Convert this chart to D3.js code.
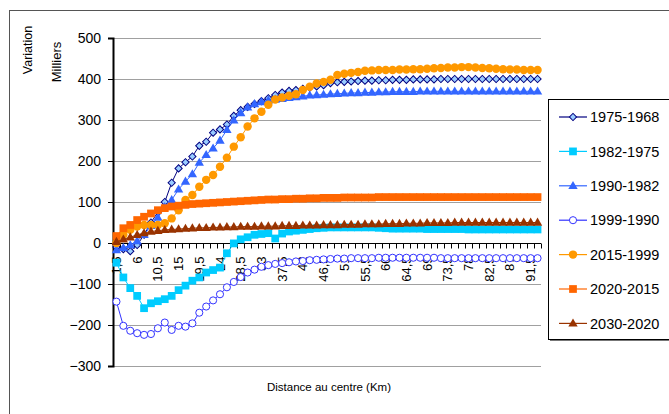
<!DOCTYPE html>
<html>
<head>
<meta charset="utf-8">
<script src="https://cdn.jsdelivr.net/npm/d3@7/dist/d3.min.js"></script>
<style>
  html, body { margin: 0; padding: 0; background: #fff; }
  svg { display: block; font-family: "Liberation Sans", Arial, sans-serif; }
</style>
</head>
<body>
<svg id="chart" width="669" height="414"></svg>
<script>
// ---------- DATA ----------
const categories = [1.5,3,4.5,6,7.5,9,10.5,12,13.5,15,16.5,18,19.5,21,22.5,24,25.5,27,28.5,30,
  31.5,33,34.5,36,37.5,39,40.5,42,43.5,45,46.5,48,49.5,51,52.5,54,55.5,57,58.5,60,
  61.5,63,64.5,66,67.5,69,70.5,72,73.5,75,76.5,78,79.5,81,82.5,84,85.5,87,88.5,90,91.5,93];

const yTicks = [-300,-200,-100,0,100,200,300,400,500];

const s1975_1968 = [-10,-15,-20,-5,20,50,75,100,147,182,
  197,211,237,247,269,277,289,310,324,332,
  339,346,353,361,367,371,373,376,379,382,
  385,390,392,393,394,395,396,396,397,397,
  398,398,398,399,399,399,399,400,400,400,
  400,400,400,400,400,400,400,400,400,400,400,400];

const s1982_1975 = [-48,-84,-110,-129,-159,-147,-142,-137,-129,-115,
  -104,-92,-84,-72,-66,-60,-25,-1,9,14,
  20,22,24,11,23,28,30,32,34,36,
  37,38,38,38,38,38,38,38,37,36,
  35,35,35,35,35,34,34,34,34,34,
  34,33,33,33,33,33,33,33,33,33,33,33];

const s1990_1982 = [-17,-12,-5,5,20,42,62,88,105,131,
  150,168,196,215,231,250,276,299,317,331,
  339,344,348,350,352,354,356,358,360,361,
  362,363,364,365,366,366,367,367,368,368,
  369,369,369,369,370,370,370,370,370,370,
  370,370,370,370,370,370,370,370,370,370,370,370];

const s1999_1990 = [-143,-202,-214,-220,-224,-222,-208,-194,-212,-202,
  -204,-196,-170,-155,-140,-125,-108,-95,-83,-72,
  -65,-58,-54,-51,-49,-47,-45,-44,-42,-41,
  -40,-39,-38,-38,-37,-37,-37,-37,-36,-36,
  -36,-36,-36,-36,-36,-36,-36,-37,-37,-37,
  -37,-37,-37,-37,-37,-37,-37,-37,-37,-37,-37,-37];

const s2015_1999 = [0,20,32,40,44,44,44,48,60,80,
  105,117,137,154,166,186,208,235,258,284,
  304,320,337,350,355,359,363,373,381,389,
  393,398,410,413,415,417,420,421,422,422,
  422,423,423,424,424,425,426,427,428,428,
  429,429,428,427,426,425,424,423,423,422,422,422];

const s2020_2015 = [17,36,44,56,64,72,80,85,89,91,
  93,95,96,97,98,99,100,101,102,103,
  104,105,106,106,107,107,108,108,109,109,
  110,110,110,111,111,111,111,111,112,112,
  112,112,112,112,112,112,112,112,112,112,
  112,112,112,112,112,112,112,112,112,112,112,112];

const s2030_2020 = [3,9,14,20,24,28,30,32,33,34,
  35,36,37,37,38,38,39,39,40,40,
  40,41,41,41,42,42,42,43,43,43,
  44,44,44,45,45,45,46,46,46,47,
  47,47,48,48,48,49,49,49,49,50,
  50,50,50,50,50,50,50,50,50,50,50,50];

const seriesNames = ["1975-1968","1982-1975","1990-1982","1999-1990","2015-1999","2020-2015","2030-2020"];
const seriesValues = [s1975_1968, s1982_1975, s1990_1982, s1999_1990, s2015_1999, s2020_2015, s2030_2020];

// ---------- STYLES ----------
const styles = [
  {line:"#000080", fill:"#99CCFF", stroke:"#000080", sym:"diamond", size:26},
  {line:"#00CCFF", fill:"#00CCFF", stroke:"none",    sym:"square",  size:60},
  {line:"#3366FF", fill:"#3366FF", stroke:"none",    sym:"triangle",size:38},
  {line:"#3333FF", fill:"#FFFFFF", stroke:"#3333FF", sym:"circle",  size:40},
  {line:"#FF9900", fill:"#FF9900", stroke:"none",    sym:"circle",  size:56},
  {line:"#FF6600", fill:"#FF6600", stroke:"none",    sym:"square",  size:60},
  {line:"#993300", fill:"#993300", stroke:"none",    sym:"triangle",size:38}
];

const svg = d3.select("#chart");

// outer chart border
svg.append("rect").attr("x",9.5).attr("y",10.5).attr("width",700).attr("height",420)
  .attr("fill","#fff").attr("stroke","#555").attr("stroke-width",1);

const plotL = 113, plotR = 541, plotT = 38, plotB = 366;

const x = d3.scaleBand().domain(categories).range([plotL, plotR]).paddingInner(0).paddingOuter(0);
const y = d3.scaleLinear().domain([-300, 500]).range([plotB, plotT]);
const cx = d => x(d) + x.bandwidth()/2;

// gridlines
svg.append("g").selectAll("line").data(yTicks).join("line")
  .attr("x1", plotL).attr("x2", plotR)
  .attr("y1", d => Math.round(y(d))+0.5).attr("y2", d => Math.round(y(d))+0.5)
  .attr("stroke", "#A0A0A0").attr("stroke-width", 1);

// y axis
const yAxis = d3.axisLeft(y).tickValues(yTicks).tickSize(5).tickPadding(7).tickFormat(d3.format("d"));
const gy = svg.append("g").attr("transform", `translate(${plotL},0)`).call(yAxis);
gy.select(".domain").attr("stroke","#000").attr("stroke-width",2);
gy.selectAll(".tick line").attr("stroke","#000");
gy.selectAll(".tick text").attr("font-size","14px").attr("fill","#000")
  .attr("font-family","'Liberation Sans', Arial, sans-serif");

// x axis at y=0
const y0 = Math.round(y(0)) + 0.5;
const gx = svg.append("g");
gx.append("line").attr("x1", plotL).attr("x2", plotR).attr("y1", y0).attr("y2", y0)
  .attr("stroke","#000").attr("stroke-width",1);
const tickPos = categories.map(c => x(c)).concat([plotR]);
gx.selectAll("line.tk").data(tickPos).join("line").attr("class","tk")
  .attr("x1", d => Math.round(d)+0.5).attr("x2", d => Math.round(d)+0.5)
  .attr("y1", y0).attr("y2", y0 + 5).attr("stroke","#000");
const fmtCat = d => String(d).replace(".", ",");
gx.selectAll("text").data(categories.filter((c,i) => i % 3 === 0)).join("text")
  .attr("transform", d => `translate(${cx(d)},${y0 + 13}) rotate(-90)`)
  .attr("text-anchor","end").attr("dy","0.35em")
  .attr("font-size","13px").attr("fill","#000")
  .text(fmtCat);

// symbol helper
function symPath(s, size) {
  if (s === "diamond") return d3.symbol(d3.symbolSquare, size)();
  if (s === "square") return d3.symbol(d3.symbolSquare, size)();
  if (s === "triangle") return d3.symbol(d3.symbolTriangle, size)();
  return d3.symbol(d3.symbolCircle, size)();
}
function symTransform(s, px, py) {
  if (s === "diamond") return `translate(${px},${py}) rotate(45)`;
  if (s === "triangle") return `translate(${px},${py+0.5})`;
  return `translate(${px},${py})`;
}

// series
const line = d3.line().x((d,i) => cx(categories[i])).y(d => y(d));
seriesValues.forEach((vals, si) => {
  const st = styles[si];
  const g = svg.append("g");
  g.append("path").datum(vals).attr("d", line)
    .attr("fill","none").attr("stroke", st.line).attr("stroke-width", 1);
  g.selectAll("path.m").data(vals).join("path").attr("class","m")
    .attr("d", symPath(st.sym, st.size))
    .attr("transform", (d,i) => symTransform(st.sym, cx(categories[i]), y(d)))
    .attr("fill", st.fill).attr("stroke", st.stroke).attr("stroke-width", 1);
});

// axis titles
svg.append("text").attr("transform","translate(32,50) rotate(-90)")
  .attr("text-anchor","middle").attr("font-size","12.5px").text("Variation");
svg.append("text").attr("transform","translate(61,62) rotate(-90)")
  .attr("text-anchor","middle").attr("font-size","13px").text("Milliers");
svg.append("text").attr("x", 329).attr("y", 391)
  .attr("text-anchor","middle").attr("font-size","11.5px").text("Distance au centre (Km)");

// legend
const legX = 548, legY = 99, legH = 240;
svg.append("rect").attr("x", legX + 2).attr("y", legY + 2).attr("width", 140).attr("height", legH)
  .attr("fill","#777");
svg.append("rect").attr("x", legX + 0.5).attr("y", legY + 0.5).attr("width", 140).attr("height", legH)
  .attr("fill","#fff").attr("stroke","#000").attr("stroke-width",1);
const legItems = svg.append("g").selectAll("g").data(seriesNames).join("g")
  .attr("transform", (d,i) => `translate(0,${117 + i*34.4})`);
legItems.append("line").attr("x1", 559).attr("x2", 587).attr("y1", 0).attr("y2", 0)
  .attr("stroke", (d,i) => styles[i].line).attr("stroke-width", 1.2);
legItems.append("path")
  .attr("d", (d,i) => symPath(styles[i].sym, styles[i].size))
  .attr("transform", (d,i) => symTransform(styles[i].sym, 573, 0))
  .attr("fill", (d,i) => styles[i].fill).attr("stroke", (d,i) => styles[i].stroke);
legItems.append("text").attr("x", 590).attr("y", 0).attr("dy","0.36em")
  .attr("font-size","14.5px").attr("fill","#000").text(d => d);
</script>
</body>
</html>
